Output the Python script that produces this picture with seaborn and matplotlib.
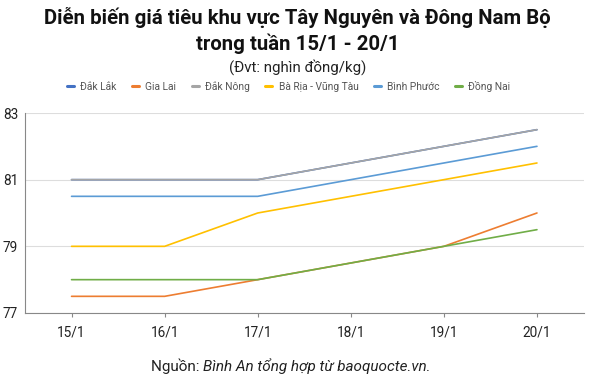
import pandas as pd
import numpy as np
import matplotlib.pyplot as plt
import seaborn as sns

# Dữ liệu giá tiêu (nghìn đồng/kg)
days = ["15/1", "16/1", "17/1", "18/1", "19/1", "20/1"]
dak_lak = [81, 81, 81, 81.5, 82, 82.5]
gia_lai = [77.5, 77.5, 78, 78.5, 79, 80]
dak_nong = [81, 81, 81, 81.5, 82, 82.5]
ba_ria = [79, 79, 80, 80.5, 81, 81.5]
binh_phuoc = [80.5, 80.5, 80.5, 81, 81.5, 82]
dong_nai = [78, 78, 78, 78.5, 79, 79.5]
yticks = [77, 79, 81, 83]

series = {
    "Đắk Lắk": dak_lak,
    "Gia Lai": gia_lai,
    "Đắk Nông": dak_nong,
    "Bà Rịa - Vũng Tàu": ba_ria,
    "Bình Phước": binh_phuoc,
    "Đồng Nai": dong_nai,
}
colors = ["#4472C4", "#ED7D31", "#A5A5A5", "#FFC000", "#5B9BD5", "#70AD47"]

rows = []
for name, vals in series.items():
    for i, v in enumerate(vals):
        rows.append({"idx": i, "gia": v, "tinh": name})
df = pd.DataFrame(rows)

sns.set_style("white")
plt.rcParams['font.family'] = ['Roboto', 'DejaVu Sans']

fig = plt.figure(figsize=(5.95, 3.91), dpi=100)
ax = fig.add_axes([25 / 595, 1 - 313 / 391, 558.5 / 595, 200 / 391])

sns.lineplot(data=df, x="idx", y="gia", hue="tinh", palette=colors,
             linewidth=1.2, ax=ax, legend=False)

ax.set_xlim(-0.5, 5.5)
ax.set_ylim(77, 83)
ax.set_xticks(range(len(days)))
ax.set_xticklabels(days, fontsize=9.8, color="#222222")
ax.set_yticks(yticks)
ax.set_yticklabels([str(t) for t in yticks], fontsize=9.8, color="#222222")
ax.set_xlabel("")
ax.set_ylabel("")
ax.grid(axis="y", color="#dddddd", linewidth=0.8)
ax.grid(axis="x", visible=False)
ax.set_axisbelow(True)
for s in ["top", "right"]:
    ax.spines[s].set_visible(False)
for s in ["left", "bottom"]:
    ax.spines[s].set_color("#888888")
    ax.spines[s].set_linewidth(0.8)
ax.tick_params(axis="x", length=3, color="#888888", pad=6, bottom=True)
ax.tick_params(axis="y", length=0, pad=5)

# Chú thích
handles = [plt.Line2D([0], [0], color=c, lw=2.2) for c in colors]
fig.legend(handles, list(series.keys()), loc="center", bbox_to_anchor=(0.485, 1 - 86 / 391),
           ncol=6, frameon=False, fontsize=7.4, handlelength=0.7, handletextpad=0.6,
           columnspacing=1.5, labelcolor="#555555")

# Tiêu đề
fig.text(0.5, 1 - 17 / 391, "Diễn biến giá tiêu khu vực Tây Nguyên và Đông Nam Bộ",
         ha="center", va="center", fontsize=14.7, fontweight="bold", color="#111111")
fig.text(0.5, 1 - 44 / 391, "trong tuần 15/1 - 20/1",
         ha="center", va="center", fontsize=14.7, fontweight="bold", color="#111111")
fig.text(0.5, 1 - 67 / 391, "(Đvt: nghìn đồng/kg)",
         ha="center", va="center", fontsize=10.8, color="#222222")

# Nguồn
fig.text(203 / 595, 1 - 366 / 391, "Nguồn: ", ha="right", va="center",
         fontsize=11, color="#222222")
fig.text(203 / 595, 1 - 366 / 391, "Bình An tổng hợp từ baoquocte.vn.",
         ha="left", va="center", fontsize=11, style="italic", color="#222222")

fig.savefig("out.png", dpi=100)
